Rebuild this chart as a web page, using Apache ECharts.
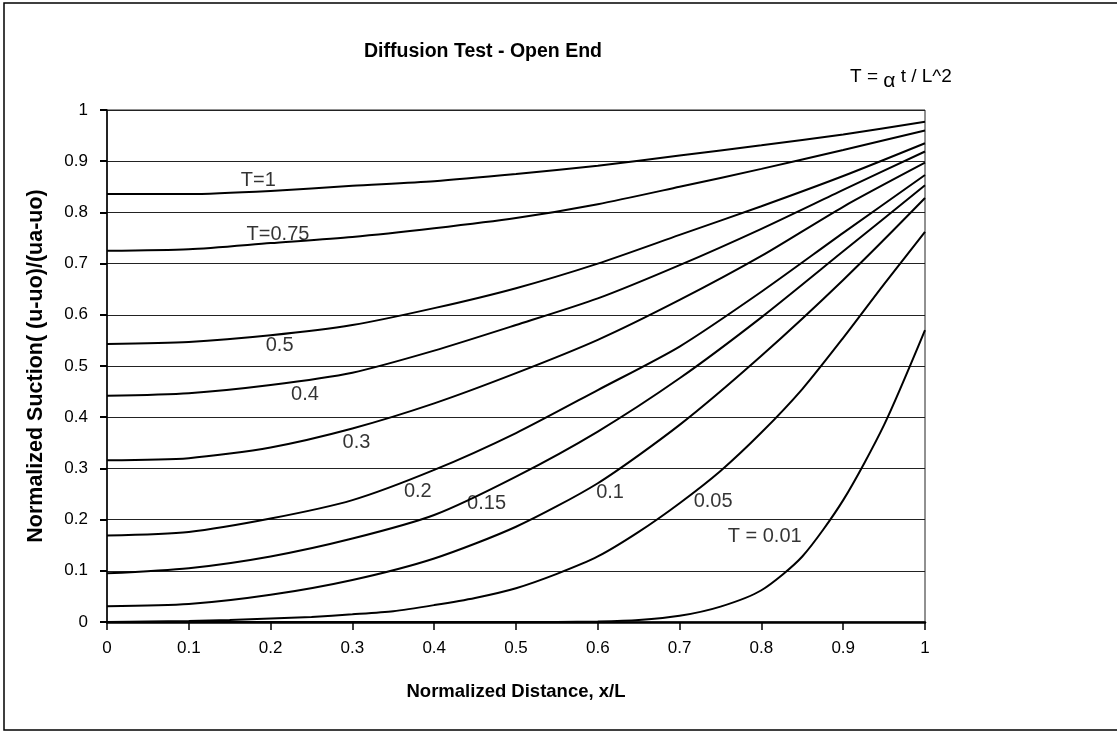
<!DOCTYPE html>
<html>
<head>
<meta charset="utf-8">
<script src="https://cdn.jsdelivr.net/npm/echarts@6/dist/echarts.min.js"></script>
<style>
  html, body { margin: 0; padding: 0; background: #fff; }
  #chart { width: 1117px; height: 732px; }
</style>
</head>
<body>
<div id="chart"></div>
<script>
// Normalized distance x/L sampled at 0.1 steps
const xSteps = [0, 0.1, 0.2, 0.3, 0.4, 0.5, 0.6, 0.7, 0.8, 0.9, 1];
// Finer sampling for the steep early-time profiles
const xFine = [0, 0.05, 0.1, 0.15, 0.2, 0.25, 0.3, 0.35, 0.4, 0.45, 0.5, 0.55, 0.6, 0.65, 0.7, 0.75, 0.8, 0.85, 0.9, 0.95, 1];

// Normalized suction profiles for each time factor T
const suctionT1    = [0.836, 0.836, 0.842, 0.852, 0.861, 0.875, 0.891, 0.911, 0.931, 0.952, 0.977];
const suctionT075  = [0.725, 0.728, 0.740, 0.752, 0.769, 0.789, 0.816, 0.850, 0.885, 0.922, 0.960];
const suctionT05   = [0.543, 0.547, 0.560, 0.580, 0.613, 0.652, 0.700, 0.756, 0.812, 0.871, 0.935];
const suctionT04   = [0.442, 0.447, 0.463, 0.487, 0.530, 0.580, 0.632, 0.697, 0.768, 0.844, 0.919];
const suctionT03   = [0.316, 0.320, 0.341, 0.378, 0.427, 0.486, 0.551, 0.629, 0.715, 0.811, 0.897];
const suctionT02   = [0.169, 0.176, 0.202, 0.238, 0.297, 0.369, 0.453, 0.538, 0.645, 0.760, 0.873];
const suctionT015  = [0.095, 0.105, 0.128, 0.163, 0.209, 0.284, 0.372, 0.476, 0.595, 0.724, 0.853];
const suctionT01   = [0.031, 0.035, 0.053, 0.082, 0.124, 0.186, 0.271, 0.385, 0.520, 0.668, 0.828];
const suctionT005  = [0, 0.001, 0.002, 0.004, 0.007, 0.010, 0.015, 0.021, 0.033, 0.047, 0.066, 0.094, 0.128, 0.176, 0.232, 0.295, 0.370, 0.455, 0.555, 0.660, 0.762];
const suctionT001  = [0, 0, 0, 0, 0, 0, 0, 0, 0, 0, 0, 0, 0.001, 0.004, 0.012, 0.030, 0.062, 0.128, 0.238, 0.385, 0.570];

// Curve captions
const curveNames = ['T=1', 'T=0.75', '0.5', '0.4', '0.3', '0.2', '0.15', '0.1', '0.05', 'T = 0.01'];

// Axis tick labels
const xTicks = ['0', '0.1', '0.2', '0.3', '0.4', '0.5', '0.6', '0.7', '0.8', '0.9', '1'];
const yTicks = ['0', '0.1', '0.2', '0.3', '0.4', '0.5', '0.6', '0.7', '0.8', '0.9', '1'];

const profiles = [
  [xSteps, suctionT1], [xSteps, suctionT075], [xSteps, suctionT05], [xSteps, suctionT04],
  [xSteps, suctionT03], [xSteps, suctionT02], [xSteps, suctionT015], [xSteps, suctionT01],
  [xFine, suctionT005], [xFine, suctionT001]
];

// Where each caption sits, in axis units
const captionSpots = [
  [0.185, 0.863], [0.209, 0.756], [0.211, 0.541], [0.242, 0.444], [0.305, 0.350],
  [0.380, 0.255], [0.464, 0.231], [0.615, 0.252], [0.741, 0.236], [0.804, 0.167]
];

const FONT = '"Liberation Sans", Arial, sans-serif';

const lineSeries = profiles.map(function (p, i) {
  return {
    type: 'line',
    name: curveNames[i],
    data: p[0].map(function (x, k) { return [x, p[1][k]]; }),
    showSymbol: false,
    smooth: 0.25,
    lineStyle: { color: '#000', width: 2 },
    z: 3,
    silent: true
  };
});

const captionSeries = {
  type: 'scatter',
  symbolSize: 0,
  silent: true,
  z: 5,
  data: captionSpots.map(function (s, i) { return { value: s, name: curveNames[i] }; }),
  label: {
    show: true,
    position: 'inside',
    formatter: function (p) { return p.name; },
    color: '#000',
    fontFamily: FONT,
    fontSize: 20
  }
};

const chart = echarts.init(document.getElementById('chart'), null, { renderer: 'canvas' });
chart.setOption({
  backgroundColor: '#fff',
  animation: false,
  grid: {
    left: 107, right: 192, top: 110, bottom: 110,
    show: true, borderColor: '#222', borderWidth: 1, backgroundColor: 'transparent'
  },
  title: {
    text: 'Diffusion Test - Open End',
    left: 478, top: 37, textAlign: 'center',
    textStyle: { fontFamily: FONT, fontSize: 19.5, fontWeight: 'bold', color: '#000' }
  },
  xAxis: {
    type: 'value', min: 0, max: 1, interval: 0.1,
    name: 'Normalized Distance, x/L',
    nameLocation: 'middle', nameGap: 60,
    nameTextStyle: { fontFamily: FONT, fontSize: 18.5, fontWeight: 'bold', color: '#000' },
    axisLine: { show: true, onZero: false, lineStyle: { color: '#000', width: 2.5 } },
    axisTick: { show: true, inside: false, length: 8, lineStyle: { color: '#000', width: 1.5 } },
    axisLabel: {
      margin: 18, fontFamily: FONT, fontSize: 17, color: '#000',
      formatter: function (v) { return xTicks[Math.round(v * 10)]; }
    },
    splitLine: { show: false }
  },
  yAxis: {
    type: 'value', min: 0, max: 1, interval: 0.1,
    name: 'Normalized Suction( (u-uo)/(ua-uo)',
    nameLocation: 'middle', nameGap: 60, nameRotate: 90,
    nameTextStyle: { fontFamily: FONT, fontSize: 21.5, fontWeight: 'bold', color: '#000' },
    axisLine: { show: true, lineStyle: { color: '#000', width: 1.5 } },
    axisTick: { show: true, inside: false, length: 7, lineStyle: { color: '#000', width: 2 } },
    axisLabel: {
      margin: 19, fontFamily: FONT, fontSize: 17, color: '#000',
      formatter: function (v) { return yTicks[Math.round(v * 10)]; }
    },
    splitLine: { show: true, lineStyle: { color: '#222', width: 1 } }
  },
  graphic: [
    {
      type: 'rect', silent: true, z: 0,
      shape: { x: 4, y: 3, width: 1130, height: 727 },
      style: { fill: 'none', stroke: '#000', lineWidth: 1.5 }
    },
    {
      type: 'text', silent: true, left: 850, top: 66,
      style: {
        text: '{a|T = }{g|α}{a| t / L^2}',
        rich: {
          a: { fontFamily: FONT, fontSize: 19, color: '#000', lineHeight: 24, verticalAlign: 'top' },
          g: { fontFamily: FONT, fontSize: 21, color: '#000', lineHeight: 24, padding: [5, 0, 0, 0] }
        }
      }
    }
  ],
  series: lineSeries.concat([captionSeries])
});
</script>
</body>
</html>
